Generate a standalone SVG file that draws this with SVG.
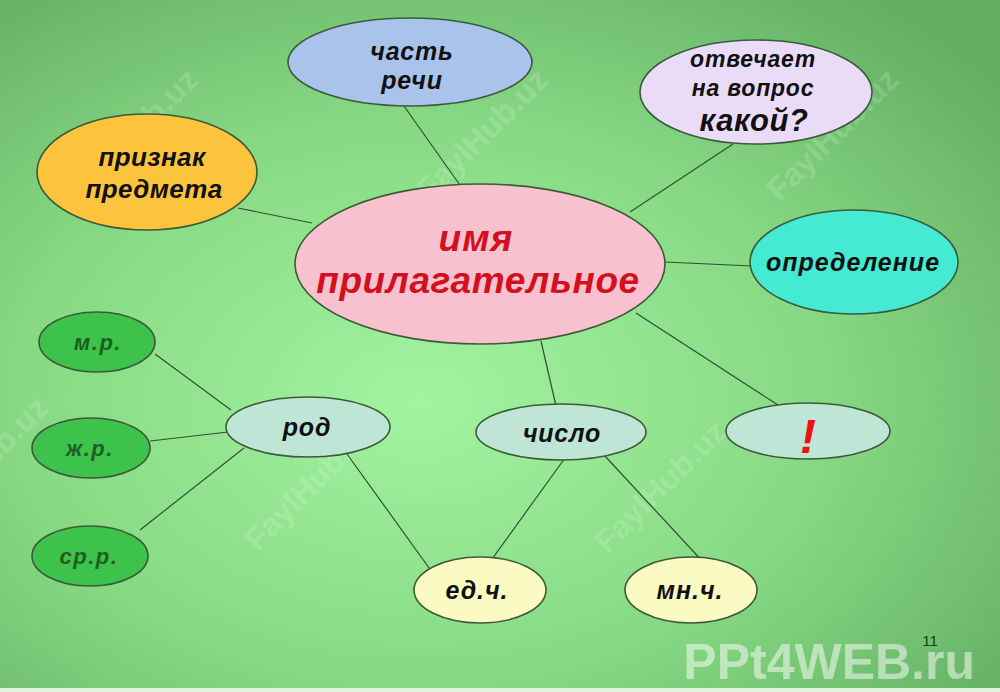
<svg xmlns="http://www.w3.org/2000/svg" width="1000" height="692" viewBox="0 0 1000 692">
<defs>
<radialGradient id="bg" cx="0.42" cy="0.58" r="0.75">
<stop offset="0" stop-color="#a2f4a0"/>
<stop offset="0.55" stop-color="#86d883"/>
<stop offset="1" stop-color="#62ad62"/>
</radialGradient>
<style>
.n{stroke:#3b5a3b;stroke-width:1.6}
.t{font-family:"Liberation Sans",Arial,sans-serif;font-weight:bold;font-style:italic;fill:#111;text-anchor:middle}
.g{fill:#1d5e22}
.c line{stroke:#2f4f34;stroke-width:1.2}
.wm{font-family:"Liberation Sans",Arial,sans-serif;font-weight:bold;font-size:32px;fill:#ffffff;fill-opacity:0.18;text-anchor:middle}
</style>
</defs>
<rect width="1000" height="692" fill="url(#bg)"/>
<rect x="0" y="688" width="1000" height="4" fill="#dff5dc"/>
<g id="watermarks">
<text class="wm" transform="translate(140,142) rotate(-45)">FaylHub.uz</text>
<text class="wm" transform="translate(490,142) rotate(-45)">FaylHub.uz</text>
<text class="wm" transform="translate(840,142) rotate(-45)">FaylHub.uz</text>
<text class="wm" transform="translate(-10,470) rotate(-45)">FaylHub.uz</text>
<text class="wm" transform="translate(318,492) rotate(-45)">FaylHub.uz</text>
<text class="wm" transform="translate(668,494) rotate(-45)">FaylHub.uz</text>
</g>
<g id="connectors" class="c">
<line x1="404" y1="106" x2="462" y2="188"/>
<line x1="733" y1="144" x2="630" y2="212"/>
<line x1="238" y1="208" x2="312" y2="223"/>
<line x1="665" y1="262" x2="752" y2="266"/>
<line x1="636" y1="313" x2="778" y2="405"/>
<line x1="541" y1="341" x2="556" y2="406"/>
<line x1="155" y1="354" x2="231" y2="410"/>
<line x1="150" y1="441" x2="228" y2="432"/>
<line x1="140" y1="530" x2="244" y2="448"/>
<line x1="347" y1="454" x2="432" y2="572"/>
<line x1="565" y1="458" x2="487" y2="566"/>
<line x1="604" y1="455" x2="705" y2="564"/>
</g>
<g id="n-chast">
<ellipse class="n" cx="410" cy="62" rx="122" ry="44" fill="#a9c3ea"/>
<text class="t" x="412" y="60" font-size="25" letter-spacing="0.8">часть</text>
<text class="t" x="412" y="89" font-size="25" letter-spacing="0.8">речи</text>
</g>
<g id="n-otvechaet">
<ellipse class="n" cx="756" cy="92" rx="116" ry="52" fill="#eadcf6"/>
<text class="t" x="753" y="67" font-size="23" letter-spacing="0.8">отвечает</text>
<text class="t" x="753" y="96" font-size="23" letter-spacing="0.8">на вопрос</text>
<text class="t" x="754" y="131" font-size="31" letter-spacing="0.5">какой?</text>
</g>
<g id="n-priznak">
<ellipse class="n" cx="147" cy="172" rx="110" ry="58" fill="#fcc43c"/>
<text class="t" x="152" y="166" font-size="26" letter-spacing="0.4">признак</text>
<text class="t" x="154" y="198" font-size="26" letter-spacing="0.4">предмета</text>
</g>
<g id="n-center">
<ellipse class="n" cx="480" cy="264" rx="185" ry="80" fill="#f8c1cf"/>
<text class="t" x="476" y="251" font-size="37" letter-spacing="1" style="fill:#d2101e">имя</text>
<text class="t" x="478" y="293" font-size="37" letter-spacing="0.6" style="fill:#d2101e">прилагательное</text>
</g>
<g id="n-opredelenie">
<ellipse class="n" cx="854" cy="262" rx="104" ry="52" fill="#44ead2"/>
<text class="t" x="853" y="271" font-size="25" letter-spacing="1">определение</text>
</g>
<g id="n-mr">
<ellipse class="n" cx="97" cy="342" rx="58" ry="30" fill="#3dc24b"/>
<text class="t g" x="98" y="350" font-size="22" letter-spacing="1.5">м.р.</text>
</g>
<g id="n-zhr">
<ellipse class="n" cx="91" cy="448" rx="59" ry="30" fill="#3dc24b"/>
<text class="t g" x="90" y="456" font-size="22" letter-spacing="1.5">ж.р.</text>
</g>
<g id="n-srr">
<ellipse class="n" cx="90" cy="556" rx="58" ry="30" fill="#3dc24b"/>
<text class="t g" x="89" y="564" font-size="22" letter-spacing="1.5">ср.р.</text>
</g>
<g id="n-rod">
<ellipse class="n" cx="308" cy="427" rx="82" ry="30" fill="#bfe5d6"/>
<text class="t" x="307" y="436" font-size="25" letter-spacing="0.8">род</text>
</g>
<g id="n-chislo">
<ellipse class="n" cx="561" cy="432" rx="85" ry="28" fill="#bfe5d6"/>
<text class="t" x="562" y="442" font-size="25" letter-spacing="0.8">число</text>
</g>
<g id="n-excl">
<ellipse class="n" cx="808" cy="431" rx="82" ry="28" fill="#bfe5d6"/>
<text class="t" x="808" y="453" font-size="48" style="fill:#ee1111">!</text>
</g>
<g id="n-edch">
<ellipse class="n" cx="480" cy="590" rx="66" ry="33" fill="#fafac2"/>
<text class="t" x="477" y="599" font-size="25" letter-spacing="1">ед.ч.</text>
</g>
<g id="n-mnch">
<ellipse class="n" cx="691" cy="590" rx="66" ry="33" fill="#fafac2"/>
<text class="t" x="690" y="599" font-size="25" letter-spacing="1">мн.ч.</text>
</g>
<text x="975" y="679" font-family="Liberation Sans,Arial,sans-serif" font-weight="bold" font-size="50" fill="#ffffff" fill-opacity="0.5" text-anchor="end">PPt4WEB.ru</text>
<text x="930" y="646" font-family="Liberation Sans,Arial,sans-serif" font-size="15" fill="#1a3a1a" text-anchor="middle">11</text>
</svg>
